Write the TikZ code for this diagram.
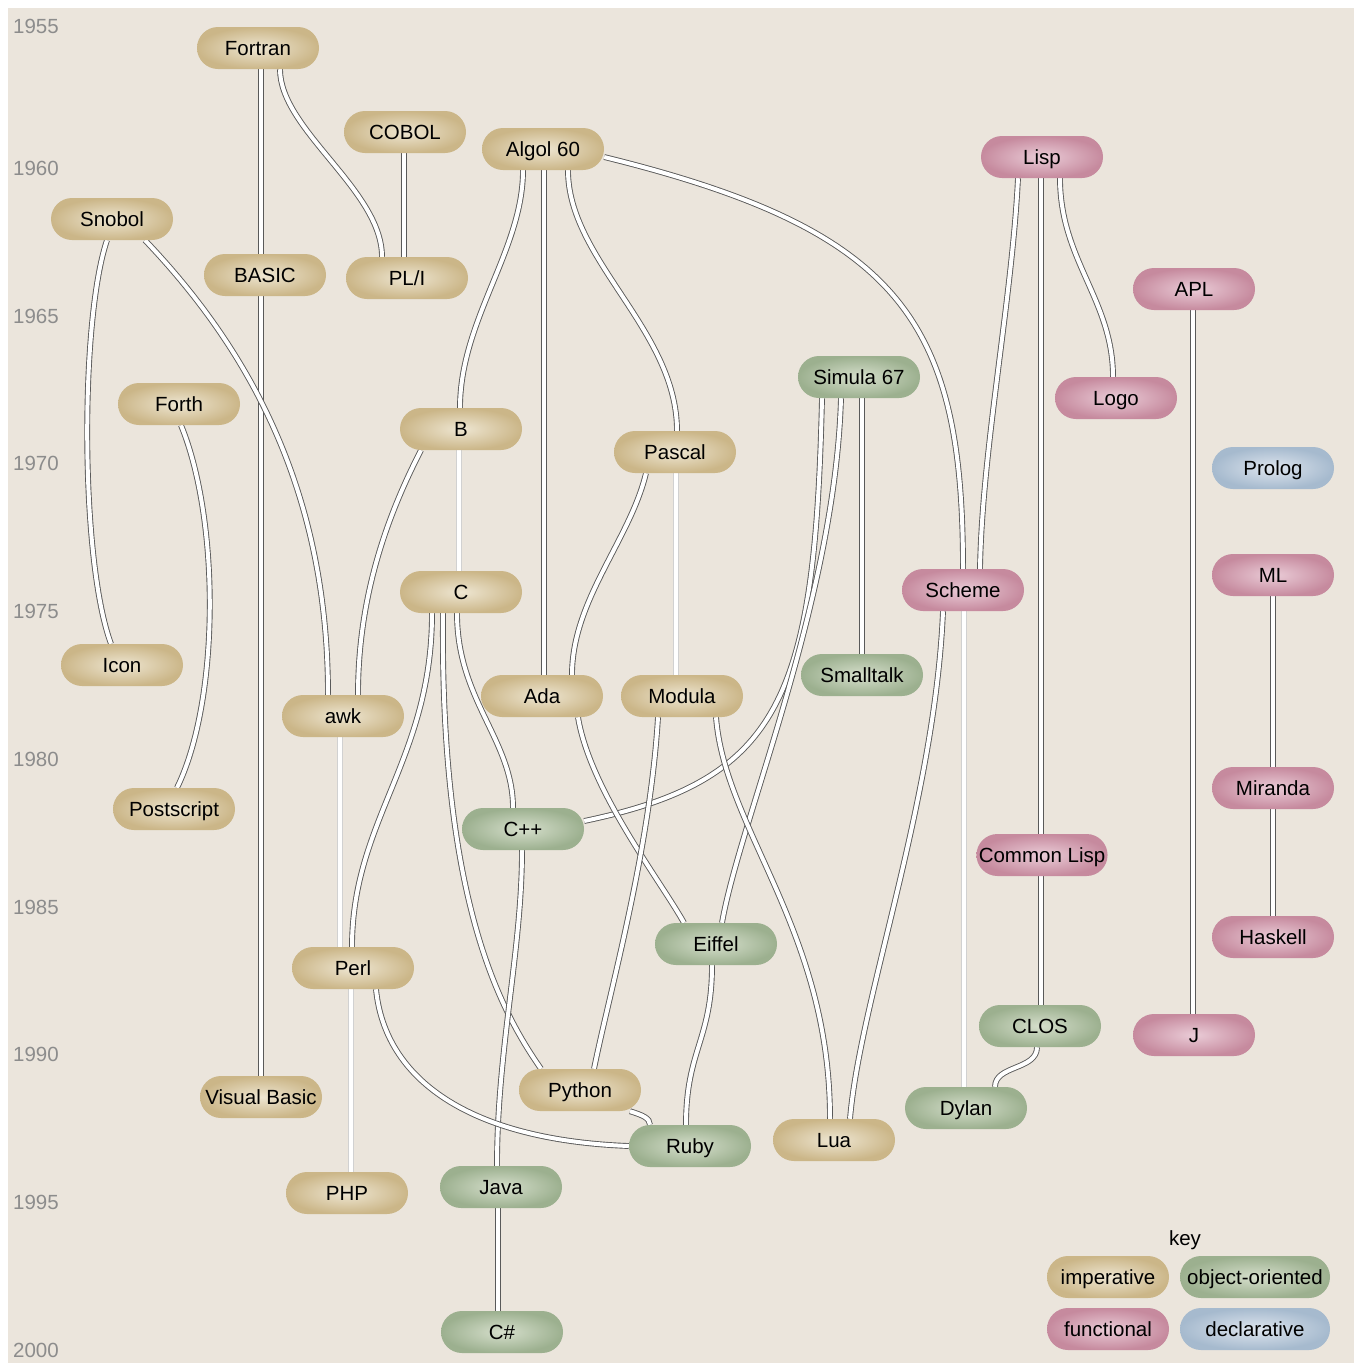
\documentclass[tikz,border=0pt]{standalone}
\usepackage{fontspec}
\setmainfont{Liberation Sans}
\usetikzlibrary{shapes.misc}
\definecolor{bgc}{RGB}{235,229,220}
\definecolor{yearc}{RGB}{140,140,140}
\definecolor{impin}{RGB}{238,230,210}
\definecolor{impout}{RGB}{203,182,136}
\definecolor{ooin}{RGB}{214,223,204}
\definecolor{ooout}{RGB}{156,176,143}
\definecolor{fnin}{RGB}{234,204,215}
\definecolor{fnout}{RGB}{198,138,158}
\definecolor{dcin}{RGB}{222,229,238}
\definecolor{dcout}{RGB}{166,186,206}
\pgfdeclarelayer{bglayer}
\pgfdeclarelayer{edgelayer}
\pgfsetlayers{bglayer,edgelayer,main}
\begin{document}
\begin{tikzpicture}[x=1pt,y=-1pt,
  pill/.style={rounded rectangle, minimum width=124pt, minimum height=42pt,
    inner xsep=1pt, inner ysep=0pt, text height=14.7pt, text depth=0pt,
    font=\fontsize{20.5}{24}\selectfont},
  imp/.style={pill, inner color=impin, outer color=impout},
  oo/.style={pill, inner color=ooin, outer color=ooout},
  fn/.style={pill, inner color=fnin, outer color=fnout},
  dc/.style={pill, inner color=dcin, outer color=dcout},
  year/.style={anchor=west, text=yearc, inner sep=0pt, font=\fontsize{20.5}{24}\selectfont},
  link/.style={draw=black!65, line width=0.9pt, double=white, double distance=4pt},
  linkw/.style={draw=black!18, line width=0.9pt, double=white, double distance=4pt}]
\useasboundingbox (0,0) rectangle (1354,1363);
\begin{pgfonlayer}{bglayer}
\fill[bgc] (8,8) rectangle (1354,1363);
\end{pgfonlayer}
% years
\node[year] (y1955) at (13,26) {1955};
\node[year] (y1960) at (13,168) {1960};
\node[year] (y1965) at (13,316) {1965};
\node[year] (y1970) at (13,463) {1970};
\node[year] (y1975) at (13,611) {1975};
\node[year] (y1980) at (13,759) {1980};
\node[year] (y1985) at (13,907) {1985};
\node[year] (y1990) at (13,1054) {1990};
\node[year] (y1995) at (13,1202) {1995};
\node[year] (y2000) at (13,1350) {2000};
% nodes
\node[imp] (Fortran) at (258,48) {Fortran};
\node[imp] (COBOL) at (405,132) {COBOL};
\node[imp] (Algol) at (543,149) {Algol 60};
\node[fn] (Lisp) at (1042,157) {Lisp};
\node[imp] (Snobol) at (112,219) {Snobol};
\node[imp] (BASIC) at (265,275) {BASIC};
\node[imp] (PLI) at (407,278) {PL/I};
\node[fn] (APL) at (1194,289) {APL};
\node[oo] (Simula) at (859,377) {Simula 67};
\node[imp] (Forth) at (179,404) {Forth};
\node[fn] (Logo) at (1116,398) {Logo};
\node[imp] (B) at (461,429) {B};
\node[imp] (Pascal) at (675,452) {Pascal};
\node[dc] (Prolog) at (1273,468) {Prolog};
\node[imp] (C) at (461,592) {C};
\node[fn] (Scheme) at (963,590) {Scheme};
\node[fn] (ML) at (1273,575) {ML};
\node[imp] (Icon) at (122,665) {Icon};
\node[oo] (Smalltalk) at (862,675) {Smalltalk};
\node[imp] (Ada) at (542,696) {Ada};
\node[imp] (Modula) at (682,696) {Modula};
\node[imp] (awk) at (343,716) {awk};
\node[fn] (Miranda) at (1273,788) {Miranda};
\node[imp] (Postscript) at (174,809) {Postscript};
\node[oo] (Cpp) at (523,829) {C++};
\node[fn] (CommonLisp) at (1042,855) {Common Lisp};
\node[fn] (Haskell) at (1273,937) {Haskell};
\node[oo] (Eiffel) at (716,944) {Eiffel};
\node[imp] (Perl) at (353,968) {Perl};
\node[oo] (CLOS) at (1040,1026) {CLOS};
\node[fn] (J) at (1194,1035) {J};
\node[imp] (Python) at (580,1090) {Python};
\node[imp] (VisualBasic) at (261,1097) {Visual Basic};
\node[oo] (Dylan) at (966,1108) {Dylan};
\node[imp] (Lua) at (834,1140) {Lua};
\node[oo] (Ruby) at (690,1146) {Ruby};
\node[imp] (PHP) at (347,1193) {PHP};
\node[oo] (Java) at (501,1187) {Java};
\node[oo] (Csharp) at (502,1332) {C\#};
% key
\node[font=\fontsize{20.5}{24}\selectfont] (keylabel) at (1185,1240) {key};
\node[imp] (kimp) at (1108,1277) {imperative};
\node[oo, minimum width=152pt] (koo) at (1255,1277) {object-oriented};
\node[fn] (kfn) at (1108,1329) {functional};
\node[dc, minimum width=152pt] (kdc) at (1255,1329) {declarative};
% connectors
\begin{pgfonlayer}{edgelayer}
\draw[link] ([xshift=3pt]Fortran.south) -- ([xshift=-4pt]BASIC.north);
\draw[link] ([xshift=-4pt]BASIC.south) -- (VisualBasic.north);
\draw[link] ([xshift=22pt]Fortran.south) .. controls (280,130) and (382,190) .. ([xshift=-25pt]PLI.north);
\draw[link] ([xshift=-1pt]COBOL.south) -- ([xshift=-3pt]PLI.north);
\draw[link] ([xshift=-20pt]Algol.south) .. controls (523,250) and (460,320) .. ([xshift=-1pt]B.north);
\draw[link] ([xshift=1pt]Algol.south) -- ([xshift=2pt]Ada.north);
\draw[link] ([xshift=25pt]Algol.south) .. controls (568,260) and (677,330) .. ([xshift=2pt]Pascal.north);
\draw[link] ([yshift=-8pt]Algol.east) .. controls (900,230) and (963,320) .. (Scheme.north);
\draw[link] ([xshift=-24pt]Lisp.south) .. controls (1012,300) and (982,450) .. ([xshift=17pt]Scheme.north);
\draw[link] ([xshift=-1pt]Lisp.south) -- ([xshift=-1pt]CommonLisp.north);
\draw[link] ([xshift=18pt]Lisp.south) .. controls (1060,260) and (1113,300) .. ([xshift=-3pt]Logo.north);
\draw[link] ([xshift=-1pt]APL.south) -- ([xshift=-1pt]J.north);
\draw[link] (ML.south) -- (Miranda.north);
\draw[link] (Miranda.south) -- (Haskell.north);
\draw[link] ([xshift=-5pt]Snobol.south) .. controls (80,320) and (80,560) .. ([xshift=-11pt]Icon.north);
\draw[link] ([xshift=33pt]Snobol.south) .. controls (240,340) and (328,480) .. ([xshift=-15pt]awk.north);
\draw[link] ([xshift=2pt]Forth.south) .. controls (220,520) and (220,700) .. ([xshift=3pt]Postscript.north);
\draw[linkw] ([xshift=-2pt]B.south) -- ([xshift=-2pt]C.north);
\draw[link] ([xshift=-40pt]B.south) .. controls (385,520) and (358,600) .. ([xshift=15pt]awk.north);
\draw[linkw] ([xshift=1pt]Pascal.south) -- ([xshift=-6pt]Modula.north);
\draw[link] ([xshift=-29pt]Pascal.south) .. controls (630,540) and (572,600) .. ([xshift=30pt]Ada.north);
\draw[link] ([xshift=-37pt]Simula.south) .. controls (815,700) and (780,780) .. ([yshift=8pt]Cpp.east);
\draw[link] ([xshift=-18pt]Simula.south) .. controls (835,600) and (740,820) .. ([xshift=6pt]Eiffel.north);
\draw[link] ([xshift=3pt]Simula.south) -- (Smalltalk.north);
\draw[link] ([xshift=-4pt]C.south) .. controls (457,700) and (513,740) .. ([xshift=-10pt]Cpp.north);
\draw[link] ([xshift=-29pt]C.south) .. controls (432,760) and (352,820) .. ([xshift=-1pt]Perl.north);
\draw[link] ([xshift=-18pt]C.south) .. controls (440,900) and (500,1010) .. ([xshift=-39pt]Python.north);
\draw[linkw] ([xshift=1pt]Scheme.south) -- ([xshift=-2pt]Dylan.north);
\draw[link] ([xshift=-20pt]Scheme.south) .. controls (935,800) and (860,1000) .. ([xshift=16pt]Lua.north);
\draw[link] ([xshift=36pt]Ada.south) .. controls (590,790) and (660,880) .. ([xshift=-32pt]Eiffel.north);
\draw[link] ([xshift=-24pt]Modula.south) .. controls (650,850) and (610,990) .. ([xshift=14pt]Python.north);
\draw[link] ([xshift=34pt]Modula.south) .. controls (725,830) and (830,930) .. ([xshift=-4pt]Lua.north);
\draw[linkw] ([xshift=-3pt]awk.south) -- ([xshift=-13pt]Perl.north);
\draw[link] ([xshift=-1pt]Cpp.south) .. controls (522,950) and (497,1050) .. ([xshift=-4pt]Java.north);
\draw[link] ([xshift=-3pt]Java.south) -- ([xshift=-4pt]Csharp.north);
\draw[linkw] ([xshift=-2pt]Perl.south) -- ([xshift=4pt]PHP.north);
\draw[link] ([xshift=23pt]Perl.south) .. controls (385,1080) and (470,1140) .. (Ruby.west);
\draw[link] ([xshift=50pt]Python.south) .. controls (642,1115) and (650,1118) .. ([xshift=-40pt]Ruby.north);
\draw[link] ([xshift=-4pt]Eiffel.south) .. controls (712,1040) and (686,1050) .. ([xshift=-4pt]Ruby.north);
\draw[link] ([xshift=-1pt]CommonLisp.south) -- ([xshift=1pt]CLOS.north);
\draw[link] ([xshift=-3pt]CLOS.south) .. controls (1037,1070) and (995,1065) .. ([xshift=29pt]Dylan.north);
\end{pgfonlayer}
\end{tikzpicture}
\end{document}
